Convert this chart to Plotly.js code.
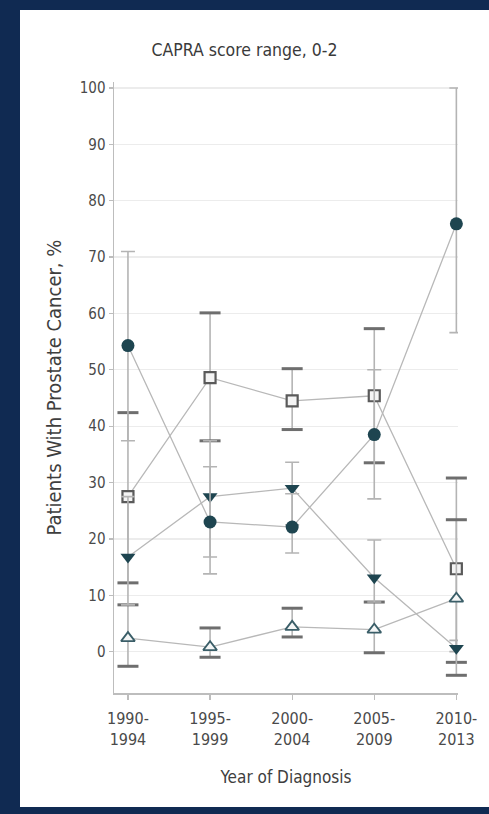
<!DOCTYPE html>
<html>
<head>
<meta charset="utf-8">
<script src="https://cdn.plot.ly/plotly-3.0.1.min.js"></script>
<style>
  html, body { margin: 0; padding: 0; width: 489px; height: 814px; overflow: hidden; background: #102a52; }
  #panel { position: absolute; left: 20px; top: 10px; width: 469px; height: 797px; background: #ffffff; }
  #chart { position: absolute; left: 0; top: 0; width: 489px; height: 814px; }
</style>
</head>
<body>
<div id="panel"></div>
<div id="chart"></div>
<script>
// Categories (year of diagnosis)
const categories = ['1990-<br>1994', '1995-<br>1999', '2000-<br>2004', '2005-<br>2009', '2010-<br>2013'];

// Filled circle series
const circleVal = [54.3, 23.0, 22.1, 38.5, 75.9];
const circleLo  = [37.4, 13.8, 17.5, 27.1, 56.6];
const circleHi  = [71.0, 32.8, 28.0, 50.0, 100.0];

// Open square series
const squareVal = [27.5, 48.6, 44.5, 45.4, 14.7];
const squareLo  = [12.2, 37.4, 39.4, 33.5, -1.9];
const squareHi  = [42.4, 60.1, 50.2, 57.3, 30.8];

// Filled down-triangle series
const triDownVal = [16.8, 27.5, 29.0, 13.1, 0.6];
const triDownLo  = [8.3, 16.8, 22.5, 8.8, 0.0];
const triDownHi  = [27.5, 37.4, 33.6, 19.8, 2.0];

// Open up-triangle series
const triUpVal = [2.4, 0.8, 4.4, 3.9, 9.4];
const triUpLo  = [-2.6, -1.0, 2.6, -0.2, -4.2];
const triUpHi  = [8.3, 4.2, 7.7, 8.8, 23.4];

const yTicks = [0, 10, 20, 30, 40, 50, 60, 70, 80, 90, 100];

const FONT = '"Liberation Sans Narrow", "DejaVu Sans Condensed", "DejaVu Sans", sans-serif';
const dark = '#1e4550';
const lineGray = '#b8b8b8';
const errGray = '#b4b4b4';
const capDark = '#6e6e6e';

function diff(a, b) { return a.map((v, i) => v - b[i]); }

function series(vals, lo, hi, marker, capThin) {
  return {
    type: 'scatter', mode: 'lines+markers',
    x: categories, y: vals,
    line: { color: lineGray, width: 1.3 },
    marker: marker,
    cliponaxis: false,
    error_y: {
      type: 'data', symmetric: false,
      array: diff(hi, vals), arrayminus: diff(vals, lo),
      color: errGray, thickness: 1.6, width: capThin ? 7 : 0
    },
    hoverinfo: 'skip', showlegend: false
  };
}

function caps(vals) {
  return {
    type: 'scatter', mode: 'markers', x: categories, y: vals,
    marker: { symbol: 'line-ew-open', size: 15, color: capDark, line: { color: capDark, width: 3 } },
    cliponaxis: false, hoverinfo: 'skip', showlegend: false
  };
}

const traces = [
  series(squareVal, squareLo, squareHi,
    { symbol: 'square', size: 11, color: '#f4f4f4', line: { color: '#5a5a5a', width: 2.2 } }, false),
  caps(squareLo), caps(squareHi),
  series(triUpVal, triUpLo, triUpHi,
    { symbol: 'triangle-up', size: 12, color: '#f4f6f6', line: { color: '#3a5e68', width: 1.8 } }, false),
  caps(triUpLo), caps(triUpHi),
  series(triDownVal, triDownLo, triDownHi,
    { symbol: 'triangle-down', size: 13, color: dark, line: { color: dark, width: 0 } }, true),
  series(circleVal, circleLo, circleHi,
    { symbol: 'circle', size: 13, color: dark, line: { color: dark, width: 0 } }, true)
];

const layout = {
  width: 489, height: 814,
  paper_bgcolor: 'rgba(0,0,0,0)', plot_bgcolor: 'rgba(0,0,0,0)',
  margin: { l: 114, r: 31, t: 82, b: 121 },
  font: { family: FONT, color: '#4a4a4a', size: 15 },
  title: { text: 'CAPRA score range, 0-2', x: 0.5, xanchor: 'center', y: 1 - 50 / 814, yanchor: 'middle',
           font: { family: FONT, size: 17.5, color: '#3a3a3a' } },
  xaxis: {
    type: 'category', range: [-0.17, 4.02],
    showline: true, linecolor: '#bdbdbd', linewidth: 1.5,
    ticks: 'outside', ticklen: 5, tickcolor: '#bdbdbd', tickwidth: 1.3,
    ticklabelstandoff: 5,
    showgrid: false, zeroline: false,
    tickfont: { family: FONT, size: 16, color: '#4a4a4a' },
    title: { text: 'Year of Diagnosis', standoff: 23, font: { family: FONT, size: 17, color: '#3e3e3e' } },
    automargin: false
  },
  yaxis: {
    range: [-7.34, 101.06],
    tickvals: yTicks, ticktext: yTicks.map(String),
    showline: true, linecolor: '#bdbdbd', linewidth: 1.5,
    ticks: 'outside', ticklen: 4, tickcolor: '#bdbdbd', tickwidth: 1.3,
    showgrid: true, gridcolor: '#ececec', gridwidth: 1.3,
    zeroline: true, zerolinecolor: '#ececec', zerolinewidth: 1.3,
    tickfont: { family: FONT, size: 15, color: '#4a4a4a' },
    title: { text: 'Patients With Prostate Cancer, %', standoff: 12, font: { family: FONT, size: 20, color: '#3e3e3e' } },
    automargin: false
  }
};

Plotly.newPlot('chart', traces, layout, { staticPlot: true, displayModeBar: false });
</script>
</body>
</html>
